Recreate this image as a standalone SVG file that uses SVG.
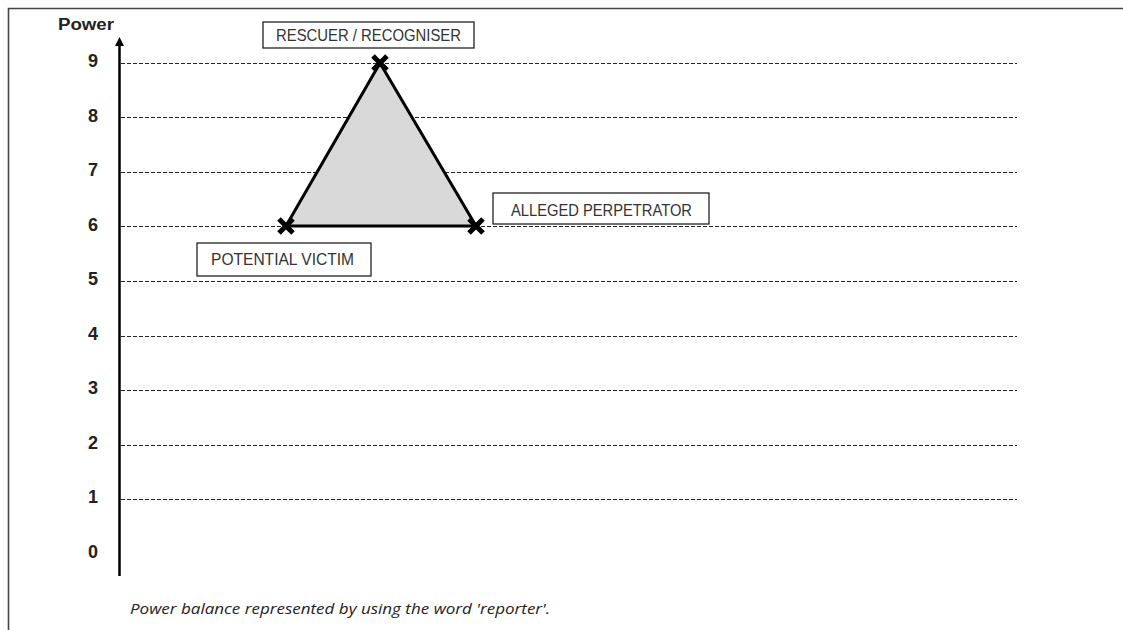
<svg xmlns="http://www.w3.org/2000/svg" width="1123" height="630" viewBox="0 0 1123 630">
  <style>
    .grid { stroke: #222; stroke-width: 1; stroke-dasharray: 4 2; fill: none; }
    .tick { font-family: "Liberation Sans", Arial, sans-serif; font-size: 18px; font-weight: bold; fill: #222; text-anchor: middle; }
    .box rect { fill: #fff; stroke: #222; stroke-width: 1.3; }
    .box text { font-family: "Liberation Sans", Arial, sans-serif; font-size: 16px; fill: #333; }
    .mark { stroke: #000; stroke-width: 5; stroke-linecap: butt; fill: none; }
  </style>
  <rect width="1123" height="630" fill="#fff"/>
  <!-- frame -->
  <path d="M8.5 630 V8.5 H1123" fill="none" stroke="#444" stroke-width="1.6"/>

  <!-- grid lines for levels 1-9 -->
  <g id="grid">
    <line class="grid" x1="121" y1="63.5" x2="1017" y2="63.5"/>
    <line class="grid" x1="121" y1="117.5" x2="1017" y2="117.5"/>
    <line class="grid" x1="121" y1="172.5" x2="1017" y2="172.5"/>
    <line class="grid" x1="121" y1="226.5" x2="1017" y2="226.5"/>
    <line class="grid" x1="121" y1="281.5" x2="1017" y2="281.5"/>
    <line class="grid" x1="121" y1="336.5" x2="1017" y2="336.5"/>
    <line class="grid" x1="121" y1="390.5" x2="1017" y2="390.5"/>
    <line class="grid" x1="121" y1="445.5" x2="1017" y2="445.5"/>
    <line class="grid" x1="121" y1="499.5" x2="1017" y2="499.5"/>
  </g>

  <!-- vertical power axis -->
  <g id="axis">
    <line x1="119.5" y1="576" x2="119.5" y2="44" stroke="#000" stroke-width="2.5"/>
    <polygon points="119.5,37 115,46 124,46" fill="#000"/>
    <text x="58" y="30" font-family="Liberation Sans, Arial, sans-serif" font-size="16" font-weight="bold" fill="#222" textLength="56" lengthAdjust="spacingAndGlyphs">Power</text>
    <text class="tick" x="93" y="67">9</text>
    <text class="tick" x="93" y="122">8</text>
    <text class="tick" x="93" y="176">7</text>
    <text class="tick" x="93" y="231">6</text>
    <text class="tick" x="93" y="285">5</text>
    <text class="tick" x="93" y="340">4</text>
    <text class="tick" x="93" y="394">3</text>
    <text class="tick" x="93" y="449">2</text>
    <text class="tick" x="93" y="503">1</text>
    <text class="tick" x="93" y="558">0</text>
  </g>

  <!-- triangle of roles -->
  <g id="connectors">
    <polygon points="380,63 286,226 476,226" fill="#d9d9d9" stroke="#000" stroke-width="3" stroke-linejoin="round"/>
  </g>

  <g id="rescuer">
    <path class="mark" d="M373 56 L387 70 M387 56 L373 70"/>
    <g class="box">
      <rect x="263" y="22" width="211" height="26"/>
      <text x="276" y="41" textLength="185" lengthAdjust="spacingAndGlyphs">RESCUER / RECOGNISER</text>
    </g>
  </g>

  <g id="perpetrator">
    <path class="mark" d="M469 219 L483 233 M483 219 L469 233"/>
    <g class="box">
      <rect x="493" y="193" width="216" height="31"/>
      <text x="511" y="216" textLength="181" lengthAdjust="spacingAndGlyphs">ALLEGED PERPETRATOR</text>
    </g>
  </g>

  <g id="victim">
    <path class="mark" d="M279 219 L293 233 M293 219 L279 233"/>
    <g class="box">
      <rect x="197" y="243" width="174" height="33"/>
      <text x="211" y="265" textLength="143" lengthAdjust="spacingAndGlyphs">POTENTIAL VICTIM</text>
    </g>
  </g>

  <text x="130" y="614" font-family="Open Sans, Liberation Sans, sans-serif" font-size="14.5" font-style="italic" fill="#222" textLength="420" lengthAdjust="spacingAndGlyphs">Power balance represented by using the word 'reporter'.</text>
</svg>
